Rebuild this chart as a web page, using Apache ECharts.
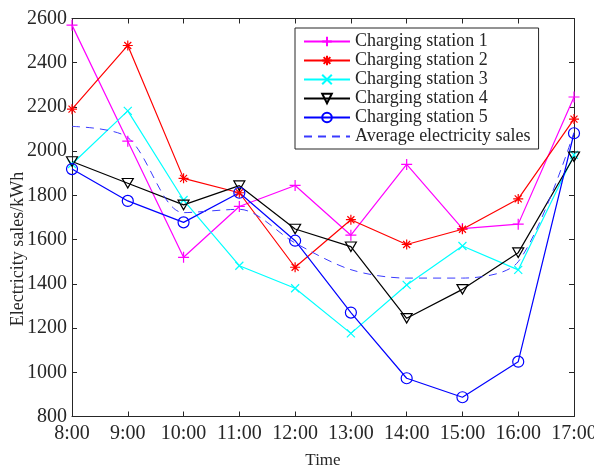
<!DOCTYPE html>
<html>
<head>
<meta charset="utf-8">
<script src="https://cdn.jsdelivr.net/npm/echarts@6/dist/echarts.min.js"></script>
<style>
html,body{margin:0;padding:0;background:#fff;}
#chart{width:594px;height:465px;}
</style>
</head>
<body>
<div id="chart"></div>
<script>
const hours = ['8:00','9:00','10:00','11:00','12:00','13:00','14:00','15:00','16:00','17:00'];
const yTicks = [800, 1000, 1200, 1400, 1600, 1800, 2000, 2200, 2400, 2600];
const station1 = [2570, 2045, 1520, 1750, 1845, 1620, 1940, 1650, 1670, 2245];
const station2 = [2190, 2478, 1877, 1812, 1475, 1690, 1578, 1647, 1784, 2145];
const station3 = [1942, 2182, 1779, 1482, 1380, 1176, 1395, 1571, 1463, 1983];
const station4 = [1953, 1855, 1757, 1844, 1648, 1568, 1244, 1375, 1541, 1975];
const station5 = [1919, 1775, 1678, 1812, 1595, 1270, 973, 887, 1048, 2081];
const average  = [2112, 2062, 1722, 1737, 1585, 1464, 1426, 1426, 1500, 2085];
const names = ['Charging station 1','Charging station 2','Charging station 3','Charging station 4','Charging station 5','Average electricity sales'];

const FONT = '"Liberation Serif","Times New Roman",serif';
const TXT = '#262626';
const chart = echarts.init(document.getElementById('chart'), null, {renderer:'canvas'});

const plus = 'path://M5,0 L5,10 M0,5 L10,5';
const cross = 'path://M0,0 L10,10 M10,0 L0,10';
const star = 'path://M5,0 L5,10 M0,5 L10,5 M1.5,1.5 L8.5,8.5 M8.5,1.5 L1.5,8.5';
const triDown = 'path://M0,0 L10,0 L5,8.66 Z';
const circ = 'circle';

function mk(name, data, color, symbol, size, fill) {
  return {
    name, type:'line', data, symbol, symbolSize:size, showSymbol:true,
    lineStyle:{color, width:1.2},
    itemStyle:{color: fill, borderColor:color, borderWidth:1.2},
    emphasis:{disabled:true}, animation:false
  };
}

const legendData = names.map((n, i) => i === 5
  ? {name:n, itemStyle:{opacity:0}}
  : {name:n});

const option = {
  animation:false,
  grid:{left:72, right:20, top:18.5, bottom:48.5, containLabel:false, outerBoundsMode:'none'},
  legend:{
    data:legendData, orient:'vertical', left:295, top:28,
    backgroundColor:'#fff', borderColor:'#262626', borderWidth:1,
    padding:[4,8,3,8], itemGap:0, itemWidth:46, itemHeight:12,
    textStyle:{fontFamily:FONT, fontSize:18, color:TXT, lineHeight:19},
    selectedMode:false
  },
  xAxis:[{
    type:'category', data:hours, boundaryGap:false,
    name:'Time', nameLocation:'middle', nameGap:36,
    nameTextStyle:{fontFamily:FONT, fontSize:17, color:TXT},
    axisLine:{onZero:false, lineStyle:{color:'#262626', width:1}},
    axisTick:{inside:true, length:5, alignWithLabel:true, lineStyle:{color:'#262626'}},
    axisLabel:{interval:0, hideOverlap:false, margin:7, fontFamily:FONT, fontSize:20, color:TXT},
    splitLine:{show:false}
  },{
    type:'category', data:hours, boundaryGap:false, position:'top',
    axisLine:{onZero:false, lineStyle:{color:'#262626', width:1}},
    axisTick:{inside:true, length:5, lineStyle:{color:'#262626'}},
    axisLabel:{show:false}, splitLine:{show:false}
  }],
  yAxis:[{
    type:'value', min:yTicks[0], max:yTicks[yTicks.length-1], interval:200,
    axisLine:{show:true, onZero:false, lineStyle:{color:'#262626', width:1}},
    axisTick:{show:true, inside:true, length:5, lineStyle:{color:'#262626'}},
    axisLabel:{margin:5, fontFamily:FONT, fontSize:20, color:TXT, formatter:(v)=>String(v)},
    splitLine:{show:false}
  },{
    type:'value', min:yTicks[0], max:yTicks[yTicks.length-1], interval:200, position:'right',
    axisLine:{show:true, onZero:false, lineStyle:{color:'#262626', width:1}},
    axisTick:{show:true, inside:true, length:5, lineStyle:{color:'#262626'}},
    axisLabel:{show:false}, splitLine:{show:false}
  }],
  graphic:[{
    type:'text', x:18, y:249, rotation:Math.PI/2,
    style:{text:'Electricity sales/kWh', font:'18px '+FONT, fill:TXT, align:'center', verticalAlign:'middle'}
  }],
  series:[
    mk(names[0], station1, '#ff00ff', plus, 11, '#ff00ff'),
    mk(names[1], station2, '#ff0000', star, 10, '#ff0000'),
    mk(names[2], station3, '#00ffff', cross, 8, '#00ffff'),
    mk(names[3], station4, '#000000', triDown, [11,9.5], 'rgba(255,255,255,0)'),
    mk(names[4], station5, '#0000ff', circ, 11, 'rgba(255,255,255,0)'),
    {
      name:names[5], type:'line', data:average, symbol:'none', smooth:0.3,
      lineStyle:{color:'#3a3aff', width:1, type:[8,6]},
      itemStyle:{color:'#3a3aff'},
      emphasis:{disabled:true}, animation:false
    }
  ]
};
chart.setOption(option);
</script>
</body>
</html>
